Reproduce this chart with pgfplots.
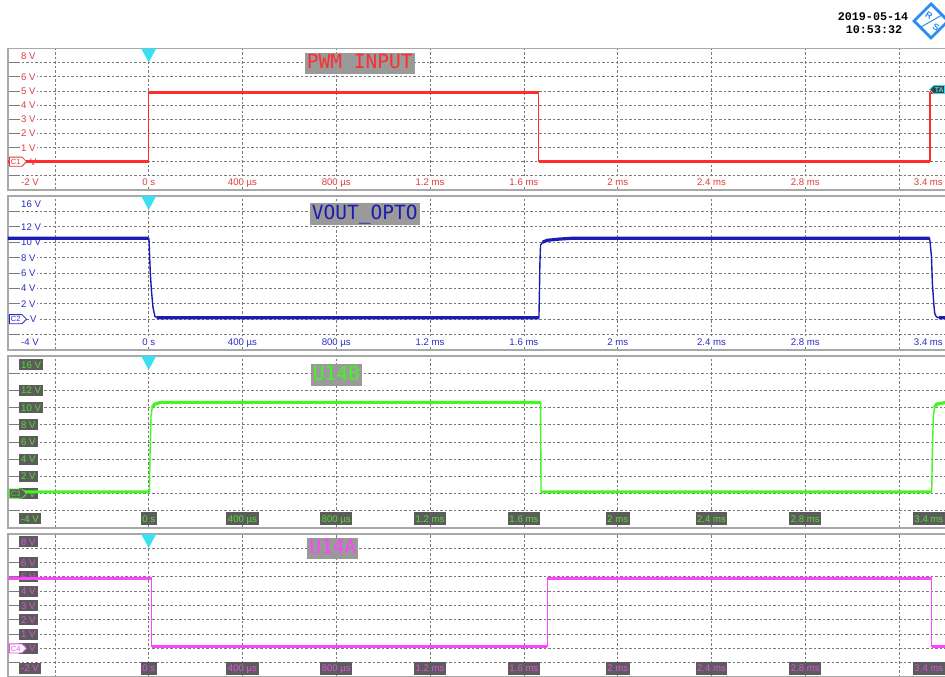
\documentclass[border=0pt]{standalone}
\usepackage{fontspec}
\setmainfont{Liberation Sans}
\newfontfamily\titlefont{DejaVu Sans Mono}
\newfontfamily\datefont{Liberation Mono}
\usepackage{pgfplots}
\pgfplotsset{compat=1.18}
\usetikzlibrary{shapes.symbols}

\definecolor{tred}{HTML}{FF2E2E}
\definecolor{lred}{HTML}{E23A3A}
\definecolor{tblue}{HTML}{1C1CB4}
\definecolor{lblue}{HTML}{2B2BC4}
\definecolor{tgreen}{HTML}{44F522}
\definecolor{lgreen}{HTML}{55DD33}
\definecolor{tmag}{HTML}{FF44FF}
\definecolor{lmag}{HTML}{E050E0}
\definecolor{trig}{HTML}{3CDFF0}
\definecolor{gridgray}{HTML}{7A7A7A}
\definecolor{bordergray}{HTML}{A8A8A8}
\definecolor{titlegray}{HTML}{9A9A9A}
\definecolor{boxgray}{HTML}{5C5C5C}
\definecolor{tagdark}{HTML}{404040}
\definecolor{logoblue}{HTML}{2A8CF0}

\newcommand\lab{\fontsize{9.6}{10}\selectfont}

\pgfplotsset{
  panel/.style={
    scale only axis, width=938pt, height=#1,
    anchor=north west,
    xmin=-0.6, xmax=3.4,
    axis line style={draw=bordergray, line width=1.3pt},
    xtick={-0.4,0,0.4,0.8,1.2,1.6,2.0,2.4,2.8,3.2},
    xticklabels={}, yticklabels={},
    xmajorticks=false,
    ytick pos=left,
    ytick style={draw=gridgray, solid, line width=0.8pt},
    major tick length=10pt,
    tick align=inside,
    grid=major,
    major grid style={draw=gridgray, line width=0.8pt, dash pattern=on 2.5pt off 2pt},
    clip mode=individual,
    unbounded coords=jump,
  },
  thin/.style={line width=1.4pt, #1},
  thick/.style={line width=3.2pt, #1},
}
\tikzset{
  yl/.style={anchor=west, xshift=12pt, inner sep=1pt, fill=white, text=#1, font=\lab, text height=7pt, text depth=0pt},
  ylb/.style={anchor=west, xshift=11pt, inner xsep=2pt, inner ysep=2pt, fill=boxgray, text=#1, font=\lab, text height=7pt, text depth=0pt},
  xl/.style={anchor=center, inner sep=1pt, fill=white, text=#1, font=\lab, text height=7pt, text depth=0pt},
  xlb/.style={anchor=center, inner xsep=1.5pt, inner ysep=3pt, fill=boxgray, text=#1, font=\lab, text height=7pt, text depth=0pt},
  ttl/.style={fill=titlegray, text=#1, font=\titlefont\fontsize{19.5}{20}\selectfont, inner xsep=2pt, inner ysep=2.5pt, text height=13.5pt, text depth=3pt},
  tag/.style 2 args={signal, signal to=east, draw=#1, fill=#2, text=#1, line width=0.8pt,
    font=\fontsize{7.5}{7.5}\selectfont, inner xsep=1.5pt, inner ysep=1.8pt, text height=5.5pt, text depth=0pt, anchor=west, xshift=1pt},
}

\begin{document}
\begin{tikzpicture}
\path[use as bounding box] (0pt,0pt) rectangle (945pt,677pt);
\fill[white] (0pt,0pt) rectangle (945pt,677pt);

% header
\node[font=\datefont\bfseries\fontsize{11.7}{12}\selectfont, inner sep=0pt] at (873pt,660.5pt) {2019-05-14};
\node[font=\datefont\bfseries\fontsize{11.7}{12}\selectfont, inner sep=0pt] at (874pt,647.5pt) {10:53:32};
\draw[logoblue, line width=2.8pt, fill=white, line join=miter] (931pt,673pt) -- (948pt,656pt) -- (931pt,639pt) -- (914pt,656pt) -- cycle;
\draw[logoblue, line width=1pt] (921pt,650pt) -- (942pt,662pt);
\node[logoblue, font=\bfseries\fontsize{9}{9}\selectfont, inner sep=0pt, rotate=-30] at (929pt,662pt) {R};
\node[logoblue, font=\bfseries\fontsize{9}{9}\selectfont, inner sep=0pt, rotate=-30] at (936pt,650pt) {S};

% ---------- panel 1: PWM INPUT
\begin{axis}[panel=141.5pt, at={(8pt,628.5pt)}, ymin=-2, ymax=8, ytick={-1,0,...,7}]
\node[ttl=tred] at (axis cs:0.90,6.94) {PWM INPUT};
\node[yl=lred] at (axis cs:-0.6,8) [yshift=-8pt] {8 V};
\node[yl=lred] at (axis cs:-0.6,6) {6 V};
\node[yl=lred] at (axis cs:-0.6,5) {5 V};
\node[yl=lred] at (axis cs:-0.6,4) {4 V};
\node[yl=lred] at (axis cs:-0.6,3) {3 V};
\node[yl=lred] at (axis cs:-0.6,2) {2 V};
\node[yl=lred] at (axis cs:-0.6,1) {1 V};
\node[yl=lred] at (axis cs:-0.6,0) [xshift=9pt] {V};
\node[yl=lred] at (axis cs:-0.6,-2) [yshift=8pt] {-2 V};
\node[xl=lred] at (axis cs:0,-2) [yshift=8pt] {0 s};
\node[xl=lred] at (axis cs:0.4,-2) [yshift=8pt] {400 µs};
\node[xl=lred] at (axis cs:0.8,-2) [yshift=8pt] {800 µs};
\node[xl=lred] at (axis cs:1.2,-2) [yshift=8pt] {1.2 ms};
\node[xl=lred] at (axis cs:1.6,-2) [yshift=8pt] {1.6 ms};
\node[xl=lred] at (axis cs:2.0,-2) [yshift=8pt] {2 ms};
\node[xl=lred] at (axis cs:2.4,-2) [yshift=8pt] {2.4 ms};
\node[xl=lred] at (axis cs:2.8,-2) [yshift=8pt] {2.8 ms};
\node[xl=lred, anchor=east] at (axis cs:3.4,-2) [yshift=8pt, xshift=-2pt] {3.4 ms};
\addplot[thick=tred] coordinates {(-0.6,0.02)(0,0.02) (0,nan) (0,4.9)(1.663,4.9) (1.663,nan) (1.663,0.02)(3.331,0.02) (3.331,nan) (3.331,4.9)(3.4,4.9)};
\addplot[thin=tred] coordinates {(-0.6,0.02)(0,0.02)(0,4.9)(1.663,4.9)(1.663,0.02)(3.331,0.02)(3.331,4.9)(3.4,4.9)};
\fill[trig] (axis cs:0,8) ++(-7.5pt,0pt) -- ++(15pt,0pt) -- ++(-7.5pt,-14pt) -- cycle;
\node[tag={lred}{white}] at (axis cs:-0.6,0) {C1};
\node[signal, signal to=west, draw=trig, fill=tagdark, text=trig, line width=0.8pt, font=\bfseries\fontsize{7}{7}\selectfont, inner xsep=1pt, inner ysep=1.5pt, text height=5.2pt, text depth=0pt, anchor=east] at (axis cs:3.4,5.1) [xshift=-1pt] {TA};
\end{axis}

% ---------- panel 2: VOUT_OPTO
\begin{axis}[panel=154pt, at={(8pt,481pt)}, ymin=-4, ymax=16, ytick={-2,0,...,14}]
\node[ttl=tblue] at (axis cs:0.921,13.66) {VOUT\_OPTO};
\node[yl=lblue] at (axis cs:-0.6,16) [yshift=-8pt] {16 V};
\node[yl=lblue] at (axis cs:-0.6,12) {12 V};
\node[yl=lblue] at (axis cs:-0.6,10) {10 V};
\node[yl=lblue] at (axis cs:-0.6,8) {8 V};
\node[yl=lblue] at (axis cs:-0.6,6) {6 V};
\node[yl=lblue] at (axis cs:-0.6,4) {4 V};
\node[yl=lblue] at (axis cs:-0.6,2) {2 V};
\node[yl=lblue] at (axis cs:-0.6,0) [xshift=9pt] {V};
\node[yl=lblue] at (axis cs:-0.6,-4) [yshift=8pt] {-4 V};
\node[xl=lblue] at (axis cs:0,-4) [yshift=8pt] {0 s};
\node[xl=lblue] at (axis cs:0.4,-4) [yshift=8pt] {400 µs};
\node[xl=lblue] at (axis cs:0.8,-4) [yshift=8pt] {800 µs};
\node[xl=lblue] at (axis cs:1.2,-4) [yshift=8pt] {1.2 ms};
\node[xl=lblue] at (axis cs:1.6,-4) [yshift=8pt] {1.6 ms};
\node[xl=lblue] at (axis cs:2.0,-4) [yshift=8pt] {2 ms};
\node[xl=lblue] at (axis cs:2.4,-4) [yshift=8pt] {2.4 ms};
\node[xl=lblue] at (axis cs:2.8,-4) [yshift=8pt] {2.8 ms};
\node[xl=lblue, anchor=east] at (axis cs:3.4,-4) [yshift=8pt, xshift=-2pt] {3.4 ms};
\addplot[thick=tblue] coordinates {(-0.6,10.5)(0,10.5) (0,nan) (0.035,0.2)(1.664,0.2) (1.664,nan) (1.68,10.0)(1.70,10.25)(1.75,10.4)(1.80,10.5)(3.330,10.5) (3.330,nan) (3.37,0.2)(3.4,0.2)};
\addplot[thin=tblue] coordinates {
  (-0.6,10.5)(0,10.5)(0.002,10.1)(0.004,8.1)(0.007,5.9)(0.0115,3.8)(0.018,1.6)(0.026,0.4)(0.035,0.2)
  (1.664,0.2)(1.666,3)(1.668,7)(1.671,9.6)(1.68,10.0)(1.70,10.25)(1.75,10.4)(1.80,10.5)
  (3.330,10.5)(3.333,9.8)(3.338,8.1)(3.342,4.6)(3.348,2.0)(3.352,0.74)(3.359,0.3)(3.37,0.2)(3.4,0.2)};
\fill[trig] (axis cs:0,16) ++(-7.5pt,0pt) -- ++(15pt,0pt) -- ++(-7.5pt,-14pt) -- cycle;
\node[tag={lblue}{white}] at (axis cs:-0.6,0) {C2};
\end{axis}

% ---------- panel 3: U14B
\begin{axis}[panel=172pt, at={(8pt,321pt)}, ymin=-4, ymax=16, ytick={-2,0,...,14}]
\node[ttl=tgreen] at (axis cs:0.80,13.8) {U14B};
\node[ylb=lgreen] at (axis cs:-0.6,16) [yshift=-9pt] {16 V};
\node[ylb=lgreen] at (axis cs:-0.6,12) {12 V};
\node[ylb=lgreen] at (axis cs:-0.6,10) {10 V};
\node[ylb=lgreen] at (axis cs:-0.6,8) {8 V};
\node[ylb=lgreen] at (axis cs:-0.6,6) {6 V};
\node[ylb=lgreen] at (axis cs:-0.6,4) {4 V};
\node[ylb=lgreen] at (axis cs:-0.6,2) {2 V};
\node[ylb=lgreen] at (axis cs:-0.6,0) {0 V};
\node[ylb=lgreen] at (axis cs:-0.6,-4) [yshift=9pt] {-4 V};
\node[xlb=lgreen] at (axis cs:0,-4) [yshift=9pt] {0 s};
\node[xlb=lgreen] at (axis cs:0.4,-4) [yshift=9pt] {400 µs};
\node[xlb=lgreen] at (axis cs:0.8,-4) [yshift=9pt] {800 µs};
\node[xlb=lgreen] at (axis cs:1.2,-4) [yshift=9pt] {1.2 ms};
\node[xlb=lgreen] at (axis cs:1.6,-4) [yshift=9pt] {1.6 ms};
\node[xlb=lgreen] at (axis cs:2.0,-4) [yshift=9pt] {2 ms};
\node[xlb=lgreen] at (axis cs:2.4,-4) [yshift=9pt] {2.4 ms};
\node[xlb=lgreen] at (axis cs:2.8,-4) [yshift=9pt] {2.8 ms};
\node[xlb=lgreen, anchor=east] at (axis cs:3.4,-4) [yshift=9pt, xshift=-1pt] {3.4 ms};
\addplot[thick=tgreen] coordinates {(-0.6,0.2)(0.003,0.2) (0.003,nan) (0.015,10.0)(0.025,10.4)(0.05,10.6)(1.671,10.6) (1.671,nan) (1.673,0.2)(3.339,0.2) (3.339,nan) (3.351,10.0)(3.36,10.4)(3.4,10.6)};
\addplot[thin=tgreen] coordinates {
  (-0.6,0.2)(0.003,0.2)(0.006,5)(0.01,9.0)(0.015,10.0)(0.025,10.4)(0.05,10.6)
  (1.671,10.6)(1.673,0.2)
  (3.339,0.2)(3.342,5)(3.346,9.0)(3.351,10.0)(3.36,10.4)(3.4,10.6)};
\fill[trig] (axis cs:0,16) ++(-7.5pt,0pt) -- ++(15pt,0pt) -- ++(-7.5pt,-14pt) -- cycle;
\node[tag={lgreen}{boxgray}] at (axis cs:-0.6,0) {C3};
\end{axis}

% ---------- panel 4: U14A
\begin{axis}[panel=143pt, at={(8pt,143pt)}, ymin=-2, ymax=8, ytick={-1,0,...,7}]
\node[ttl=tmag] at (axis cs:0.785,6.99) {U14A};
\node[ylb=lmag] at (axis cs:-0.6,8) [yshift=-8pt] {8 V};
\node[ylb=lmag] at (axis cs:-0.6,6) {6 V};
\node[ylb=lmag] at (axis cs:-0.6,5) {5 V};
\node[ylb=lmag] at (axis cs:-0.6,4) {4 V};
\node[ylb=lmag] at (axis cs:-0.6,3) {3 V};
\node[ylb=lmag] at (axis cs:-0.6,2) {2 V};
\node[ylb=lmag] at (axis cs:-0.6,1) {1 V};
\node[ylb=lmag] at (axis cs:-0.6,0) {0 V};
\node[ylb=lmag] at (axis cs:-0.6,-2) [yshift=9pt] {-2 V};
\node[xlb=lmag] at (axis cs:0,-2) [yshift=9pt] {0 s};
\node[xlb=lmag] at (axis cs:0.4,-2) [yshift=9pt] {400 µs};
\node[xlb=lmag] at (axis cs:0.8,-2) [yshift=9pt] {800 µs};
\node[xlb=lmag] at (axis cs:1.2,-2) [yshift=9pt] {1.2 ms};
\node[xlb=lmag] at (axis cs:1.6,-2) [yshift=9pt] {1.6 ms};
\node[xlb=lmag] at (axis cs:2.0,-2) [yshift=9pt] {2 ms};
\node[xlb=lmag] at (axis cs:2.4,-2) [yshift=9pt] {2.4 ms};
\node[xlb=lmag] at (axis cs:2.8,-2) [yshift=9pt] {2.8 ms};
\node[xlb=lmag, anchor=east] at (axis cs:3.4,-2) [yshift=9pt, xshift=-1pt] {3.4 ms};
\addplot[thick=tmag] coordinates {(-0.6,4.9)(0.013,4.9) (0.013,nan) (0.013,0.15)(1.70,0.15) (1.70,nan) (1.70,4.9)(3.339,4.9) (3.339,nan) (3.339,0.15)(3.4,0.15)};
\addplot[thin=tmag] coordinates {(-0.6,4.9)(0.013,4.9)(0.013,0.15)(1.70,0.15)(1.70,4.9)(3.339,4.9)(3.339,0.15)(3.4,0.15)};
\fill[trig] (axis cs:0,8) ++(-7.5pt,0pt) -- ++(15pt,0pt) -- ++(-7.5pt,-14pt) -- cycle;
\node[tag={lmag}{white}] at (axis cs:-0.6,0) {C4};
\end{axis}
\end{tikzpicture}
\end{document}
